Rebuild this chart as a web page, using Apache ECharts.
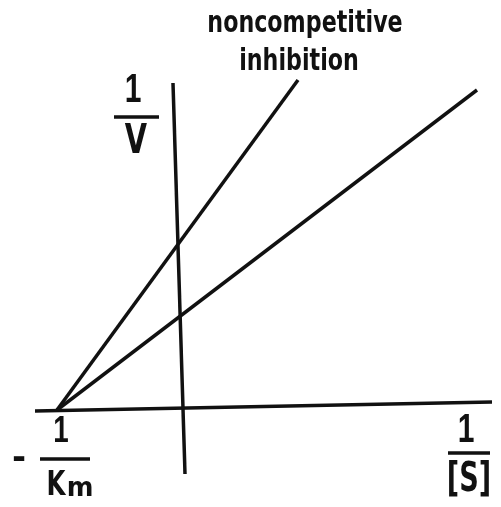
<!DOCTYPE html>
<html>
<head>
<meta charset="utf-8">
<script src="https://cdn.jsdelivr.net/npm/echarts@6/dist/echarts.min.js"></script>
<style>
html, body { margin: 0; padding: 0; background: #fff; }
#main { width: 501px; height: 507px; }
</style>
</head>
<body>
<div id="main"></div>
<script>
// Lineweaver-Burk plot, noncompetitive inhibition
// x = 1/[S], y = 1/V ; -1/Km sits at x = -1
var xRange = [-1.456, 2.552];
var yRange = [-0.8, 3.256];

// hand drawn axes (slightly tilted in the original)
var horizAxis = [[-1.176, -0.032], [2.48, 0.04]];
var vertAxis = [[-0.072, 2.592], [0.024, -0.536]];

// the two lines, both meet at -1/Km
var inhibited = [[-1, -0.024], [0.928, 2.616]];
var uninhibited = [[-1, -0.024], [2.36, 2.536]];

var chart = echarts.init(document.getElementById('main'));

function txt(str, x, y, size, extra) {
    extra = extra || {};
    return {
        type: 'text',
        x: x,
        y: y,
        scaleX: extra.sx || 1,
        silent: true,
        style: {
            text: str,
            font: (extra.weight || 'normal') + ' ' + size + 'px ' + (extra.family || '"DejaVu Sans", sans-serif'),
            fill: '#111',
            align: 'center',
            verticalAlign: 'middle',
            textAlign: 'center',
            textVerticalAlign: 'middle'
        }
    };
}

function bar(x1, x2, y) {
    return {
        type: 'line',
        silent: true,
        shape: { x1: x1, y1: y, x2: x2, y2: y },
        style: { stroke: '#111', lineWidth: 3.5 }
    };
}

function lineSeries(name, data) {
    return {
        name: name,
        type: 'line',
        data: data,
        showSymbol: false,
        silent: true,
        lineStyle: { color: '#111', width: 3.5 }
    };
}

var one = { weight: 'bold', family: '"Liberation Sans", sans-serif', sx: 0.75 };

var option = {
    animation: false,
    backgroundColor: '#fff',
    grid: { left: 0, right: 0, top: 0, bottom: 0 },
    xAxis: { type: 'value', min: xRange[0], max: xRange[1], show: false },
    yAxis: { type: 'value', min: yRange[0], max: yRange[1], show: false },
    series: [
        lineSeries('1/[S] axis', horizAxis),
        lineSeries('1/V axis', vertAxis),
        lineSeries('noncompetitive inhibition', inhibited),
        lineSeries('no inhibitor', uninhibited)
    ],
    graphic: [
        txt('noncompetitive', 305, 24, 30, { weight: 'bold', sx: 0.74 }),
        txt('inhibition', 299, 62, 30, { weight: 'bold', sx: 0.74 }),
        // 1/V
        txt('1', 133, 91, 40, one),
        bar(114, 159, 117),
        txt('V', 136, 143, 40, { weight: 'bold', sx: 0.72 }),
        // -1/Km
        txt('-', 19, 459, 34, { weight: 'bold' }),
        txt('1', 61, 432, 37, one),
        bar(40, 90, 459),
        txt('K', 56, 486, 34, { weight: 'bold', sx: 0.72 }),
        txt('m', 80, 489, 27, { weight: 'bold', sx: 0.95 }),
        // 1/[S]
        txt('1', 466, 431, 40, one),
        bar(448, 490, 453),
        txt('[S]', 469, 481, 40, { weight: 'bold', sx: 0.68 })
    ]
};
chart.setOption(option);
</script>
</body>
</html>
